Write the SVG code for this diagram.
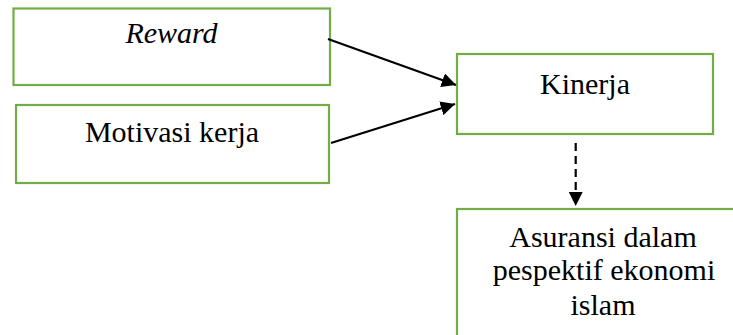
<svg xmlns="http://www.w3.org/2000/svg" width="733" height="335" viewBox="0 0 733 335">
<style>
.box{fill:#fff;stroke:#70AD47;stroke-width:2.2}
.t{font-family:'Liberation Serif','DejaVu Serif',serif;font-size:30px;fill:#000;text-anchor:middle}
.c{stroke:#000;stroke-width:2.2;fill:none}
</style>
<defs>
<marker id="ah2" viewBox="0 0 10 10" refX="10" refY="5" markerWidth="6.5" markerHeight="6.5" markerUnits="strokeWidth" orient="auto">
<path d="M0,0 L10,5 L0,10 z" fill="#000"/>
</marker>
</defs>
<rect width="733" height="335" fill="#fff"/>
<g id="node-reward">
<rect class="box" x="13.5" y="8.5" width="316.5" height="76.5"/>
<text class="t" font-family="Liberation Serif, serif" x="171.5" y="43" font-style="italic">Reward</text>
</g>
<g id="node-motivasi">
<rect class="box" x="16" y="105" width="313" height="78"/>
<text class="t" font-family="Liberation Serif, serif" x="172" y="142">Motivasi kerja</text>
</g>
<g id="node-kinerja">
<rect class="box" x="457" y="54" width="256" height="80"/>
<text class="t" font-family="Liberation Serif, serif" x="585" y="94">Kinerja</text>
</g>
<g id="node-asuransi">
<rect class="box" x="457" y="209" width="300" height="140"/>
<text class="t" font-family="Liberation Serif, serif" x="603" y="247">Asuransi dalam</text>
<text class="t" font-family="Liberation Serif, serif" x="604" y="280">pespektif ekonomi</text>
<text class="t" font-family="Liberation Serif, serif" x="603" y="315">islam</text>
</g>
<g id="connectors">
<line class="c" x1="328" y1="39" x2="456" y2="85" marker-end="url(#ah2)"/>
<line class="c" x1="331" y1="143" x2="455" y2="104" marker-end="url(#ah2)"/>
<line class="c" x1="575.7" y1="143" x2="575.7" y2="206" stroke-dasharray="8,5" marker-end="url(#ah2)"/>
</g>
</svg>
